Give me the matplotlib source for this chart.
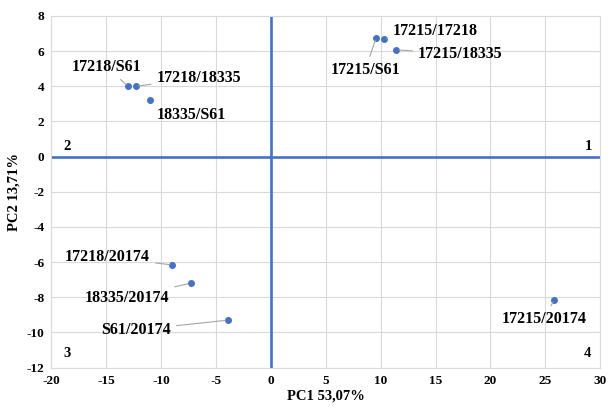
import matplotlib.pyplot as plt

# PCA scores
labels = ["17218/S61", "17218/18335", "18335/S61",
          "17215/S61", "17215/17218", "17215/18335",
          "17218/20174", "18335/20174", "S61/20174", "17215/20174"]
pc1 = [-13.0, -12.3, -11.0, 9.6, 10.3, 11.4, -9.0, -7.3, -3.9, 25.8]
pc2 = [4.0, 4.0, 3.2, 6.77, 6.67, 6.07, -6.16, -7.2, -9.3, -8.15]

# label anchor positions (data units) and alignment
label_xy = [(-15.0, 5.1), (-10.4, 4.47), (-10.4, 2.37),
            (8.6, 4.93), (11.1, 7.15), (13.4, 5.84),
            (-11.0, -5.73), (-9.26, -8.02), (-9.1, -9.86), (24.9, -9.24)]
label_ha = ["center", "left", "left", "center", "left", "left",
            "right", "right", "right", "center"]
has_leader = [True, True, False, True, True, True, True, True, True, True]

quadrants = ["1", "2", "3", "4"]
quad_xy = [(28.9, 0.6), (-18.6, 0.6), (-18.6, -11.2), (28.8, -11.2)]

blue = "#4472C4"
plt.rcParams['font.family'] = ['Liberation Serif', 'DejaVu Serif']
plt.rcParams['font.weight'] = 'bold'
plt.rcParams['axes.unicode_minus'] = False

fig = plt.figure(figsize=(6.1, 4.08), dpi=100)
ax = fig.add_axes([0.084, 0.099, 0.9, 0.862])

ax.set_xlim(-20, 30)
ax.set_ylim(-12, 8)
ax.set_xticks(range(-20, 31, 5))
ax.set_yticks(range(-12, 9, 2))
ax.grid(True, color="#D9D9D9", linewidth=0.8)
ax.set_axisbelow(True)
for s in ax.spines.values():
    s.set_color("#D9D9D9")
    s.set_linewidth(0.8)
ax.tick_params(length=0, labelsize=9.5, pad=5)
for t in ax.get_xticklabels() + ax.get_yticklabels():
    t.set_fontweight('bold')

ax.axhline(0, color=blue, linewidth=1.9, zorder=2)
ax.axvline(0, color=blue, linewidth=1.9, zorder=2)

ax.scatter(pc1, pc2, s=16, color=blue, zorder=3)

for i, lab in enumerate(labels):
    props = dict(arrowstyle="-", color="#A6A6A6", lw=0.8, shrinkA=2, shrinkB=2) if has_leader[i] else None
    ax.annotate(lab, xy=(pc1[i], pc2[i]), xytext=label_xy[i],
                ha=label_ha[i], va="center", fontsize=11.5, fontweight='bold',
                arrowprops=props, zorder=4)

for q, (qx, qy) in zip(quadrants, quad_xy):
    ax.text(qx, qy, q, ha="center", va="center", fontsize=10.5, fontweight='bold')

ax.set_xlabel("PC1 53,07%", fontsize=10.5, fontweight='bold', labelpad=2)
ax.set_ylabel("PC2 13,71%", fontsize=10.5, fontweight='bold', labelpad=4)

fig.savefig("out.png", dpi=100)
